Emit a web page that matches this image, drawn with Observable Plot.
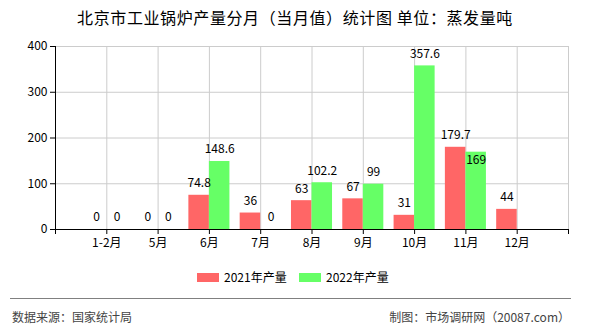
<!DOCTYPE html>
<html>
<head>
<meta charset="utf-8">
<script src="https://cdn.jsdelivr.net/npm/d3@7"></script>
<script src="https://cdn.jsdelivr.net/npm/@observablehq/plot@0.6"></script>
<style>
  html, body { margin: 0; padding: 0; background: #fff; }
  body { width: 590px; height: 330px; position: relative; overflow: hidden;
         font-family: "Noto Sans CJK SC", "Noto Sans", sans-serif; color: #000; }
  #chart { position: absolute; left: 0; top: 0; }
  #title { position: absolute; left: 0; top: 6px; width: 590px; text-align: center;
           font-size: 16px; line-height: 22px; color: #000; letter-spacing: 0.6px; }
  .sw { position: absolute; width: 22px; height: 9px; top: 273px; }
  .lt { position: absolute; top: 269px; font-size: 12px; line-height: 16px; color: #000; }
  #rule { position: absolute; left: 10px; top: 298px; width: 561px; border-top: 1px solid #808080; }
  .foot { position: absolute; top: 308px; font-size: 12px; line-height: 18px; color: #444; }
</style>
</head>
<body>
<div id="chart"></div>
<div id="title">北京市工业锅炉产量分月（当月值）统计图 单位：蒸发量吨</div>
<div id="legend"></div>
<div id="rule"></div>
<div class="foot" style="left:12px">数据来源：国家统计局</div>
<div class="foot" style="right:20px">制图：市场调研网（20087.com）</div>
<script>
const months = ["1-2月", "5月", "6月", "7月", "8月", "9月", "10月", "11月", "12月"];
const v2021 = [0, 0, 74.8, 36, 63, 67, 31, 179.7, 44];
const v2022 = [0, 0, 148.6, 0, 102.2, 99, 357.6, 169, null];
const seriesNames = ["2021年产量", "2022年产量"];
const colors = ["#ff6666", "#66ff66"];
const yTicks = [0, 100, 200, 300, 400];

const data = months.map((m, k) => ({month: m, i: k + 1, a: v2021[k], b: v2022[k]}));
const d21 = data.filter(d => d.a != null);
const d22 = data.filter(d => d.b != null);
const bw = 0.4;

const chart = Plot.plot({
  width: 590,
  height: 260,
  marginTop: 46,
  marginLeft: 55,
  marginRight: 22,
  marginBottom: 31,
  style: {fontSize: "12px", fontFamily: '"Noto Sans CJK SC", "Noto Sans", sans-serif', color: "#000", background: "transparent"},
  x: {domain: [0, months.length + 1]},
  y: {domain: [0, 400]},
  marks: [
    Plot.gridY(yTicks, {stroke: "#cccccc", strokeOpacity: 1}),
    Plot.gridX(d3.range(0, months.length + 2), {stroke: "#cccccc", strokeOpacity: 1}),
    Plot.rectY(d21, {x1: d => d.i - bw, x2: d => d.i, y: "a", fill: colors[0]}),
    Plot.rectY(d22, {x1: d => d.i, x2: d => d.i + bw, y: "b", fill: colors[1]}),
    Plot.ruleY([0], {stroke: "#000"}),
    Plot.ruleX([0], {stroke: "#000"}),
    Plot.axisY({ticks: yTicks, tickSize: 5, tickPadding: 3, label: null, fontSize: 12}),
    Plot.axisX({ticks: d3.range(0, months.length + 2), tickFormat: i => months[i - 1] ?? "", tickSize: 5, tickPadding: 4, label: null, fontSize: 12}),
    Plot.text(d21, {x: d => d.i - bw / 2, y: "a", text: d => String(d.a), dy: -12, fill: "#000", fontSize: 12}),
    Plot.text(d22.filter(d => !(d.a != null && d.a > d.b && d.b > 0)), {x: d => d.i + bw / 2, y: "b", text: d => String(d.b), dy: -12, fill: "#000", fontSize: 12}),
    Plot.text(d22.filter(d => d.a != null && d.a > d.b && d.b > 0), {x: d => d.i + bw / 2, y: "b", text: d => String(d.b), dy: 8, fill: "#000", fontSize: 12})
  ]
});
document.getElementById("chart").appendChild(chart);

const legend = document.getElementById("legend");
const lx = [[197, 224], [299, 326]];
seriesNames.forEach((name, k) => {
  const sw = document.createElement("div");
  sw.className = "sw"; sw.style.left = lx[k][0] + "px"; sw.style.background = colors[k];
  const t = document.createElement("div");
  t.className = "lt"; t.style.left = lx[k][1] + "px"; t.textContent = name;
  legend.appendChild(sw); legend.appendChild(t);
});
</script>
</body>
</html>
